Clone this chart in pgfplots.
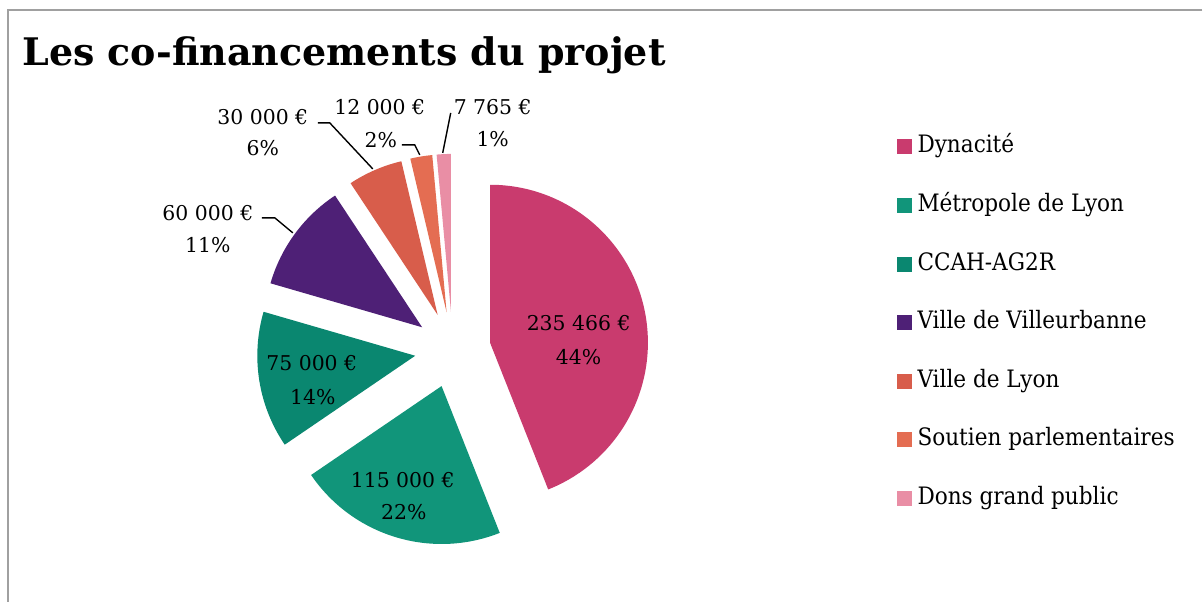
\documentclass[border=0pt]{standalone}
\usepackage{fontspec}
\setmainfont{DejaVu Serif}
\newfontfamily\condfont{DejaVu Serif Condensed}
\usepackage{pgfplots}
\pgfplotsset{compat=1.18}
\definecolor{cDyn}{HTML}{C93B6E}
\definecolor{cMet}{HTML}{11957A}
\definecolor{cCCAH}{HTML}{0A8770}
\definecolor{cVil}{HTML}{4E2076}
\definecolor{cLyon}{HTML}{D85D4B}
\definecolor{cSout}{HTML}{E46D52}
\definecolor{cDons}{HTML}{E98EA5}
\definecolor{frame}{HTML}{A0A0A0}
\newcommand\lbl{\fontsize{10.2}{12}\selectfont}
\begin{document}
\begin{tikzpicture}
\begin{axis}[
  x=0.5pt, y=0.5pt, xmin=0, xmax=1203, ymin=0, ymax=602,
  hide axis, clip=false,
  legend style={draw=none, fill=none, at={(0.7457,0.7757)}, anchor=north west,
    inner sep=0pt, outer sep=0pt, row sep=17.3pt,
    font=\condfont\fontsize{12}{14}\selectfont,
    nodes={inner sep=0pt, text height=9pt, text depth=3pt},
    /tikz/every odd column/.style={column sep=3pt}},
  legend cell align=left,
  legend image code/.code={\fill (0pt,-3.75pt) rectangle (7.5pt,3.75pt);},
]
\path (axis cs:0,0) rectangle (axis cs:1203,602);
\draw[frame, line width=0.75pt] (axis cs:1203,592) -- (axis cs:8,592) -- (axis cs:8,0);

\addlegendimage{fill=cDyn, draw=none}\addlegendentry{Dynacité}
\addlegendimage{fill=cMet, draw=none}\addlegendentry{Métropole de Lyon}
\addlegendimage{fill=cCCAH, draw=none}\addlegendentry{CCAH-AG2R}
\addlegendimage{fill=cVil, draw=none}\addlegendentry{Ville de Villeurbanne}
\addlegendimage{fill=cLyon, draw=none}\addlegendentry{Ville de Lyon}
\addlegendimage{fill=cSout, draw=none}\addlegendentry{Soutien parlementaires}
\addlegendimage{fill=cDons, draw=none}\addlegendentry{Dons grand public}

\pgfplotsextra{
  % values (EUR); total = 535231
  \foreach \v/\c [remember=\e as \s (initially 90)] in
     {235466/cDyn, 115000/cMet, 75000/cCCAH, 60000/cVil, 30000/cLyon, 12000/cSout, 7765/cDons}{
    \edef\e{\fpeval{\s-360*\v/(235466+115000+75000+60000+30000+12000+7765)}}
    \edef\m{\fpeval{(\s+\e)/2}}
    \fill[\c] (axis cs:453,252) ++(\m:19pt) -- ++(\s:79pt)
       arc[start angle=\s, end angle=\e, radius=79pt] -- cycle;
  }
}

\node[anchor=base west, inner sep=0pt, font=\fontsize{19}{21}\selectfont\bfseries]
  at (axis cs:22,536) {Les co-financements du projet};

\node[font=\lbl, inner sep=0pt] at (axis cs:579,279) {235 466 €};
\node[font=\lbl, inner sep=0pt] at (axis cs:579,245) {44\%};
\node[font=\lbl, inner sep=0pt] at (axis cs:403,122) {115 000 €};
\node[font=\lbl, inner sep=0pt] at (axis cs:404,90) {22\%};
\node[font=\lbl, inner sep=0pt] at (axis cs:312,239) {75 000 €};
\node[font=\lbl, inner sep=0pt] at (axis cs:313,205) {14\%};
\node[font=\lbl, inner sep=0pt] at (axis cs:208,389) {60 000 €};
\node[font=\lbl, inner sep=0pt] at (axis cs:208,357) {11\%};
\node[font=\lbl, inner sep=0pt] at (axis cs:263,485) {30 000 €};
\node[font=\lbl, inner sep=0pt] at (axis cs:263,454) {6\%};
\node[font=\lbl, inner sep=0pt] at (axis cs:380,495) {12 000 €};
\node[font=\lbl, inner sep=0pt] at (axis cs:381,462) {2\%};
\node[font=\lbl, inner sep=0pt] at (axis cs:493,495) {7 765 €};
\node[font=\lbl, inner sep=0pt] at (axis cs:493,463) {1\%};

\draw[line width=0.7pt] (axis cs:262,384) -- (axis cs:275,384) -- (axis cs:293,369);
\draw[line width=0.7pt] (axis cs:318,479) -- (axis cs:330,479) -- (axis cs:373,433);
\draw[line width=0.7pt] (axis cs:402,457) -- (axis cs:415,457) -- (axis cs:420,447);
\draw[line width=0.7pt] (axis cs:451,489) -- (axis cs:443,449);
\end{axis}
\end{tikzpicture}
\end{document}
